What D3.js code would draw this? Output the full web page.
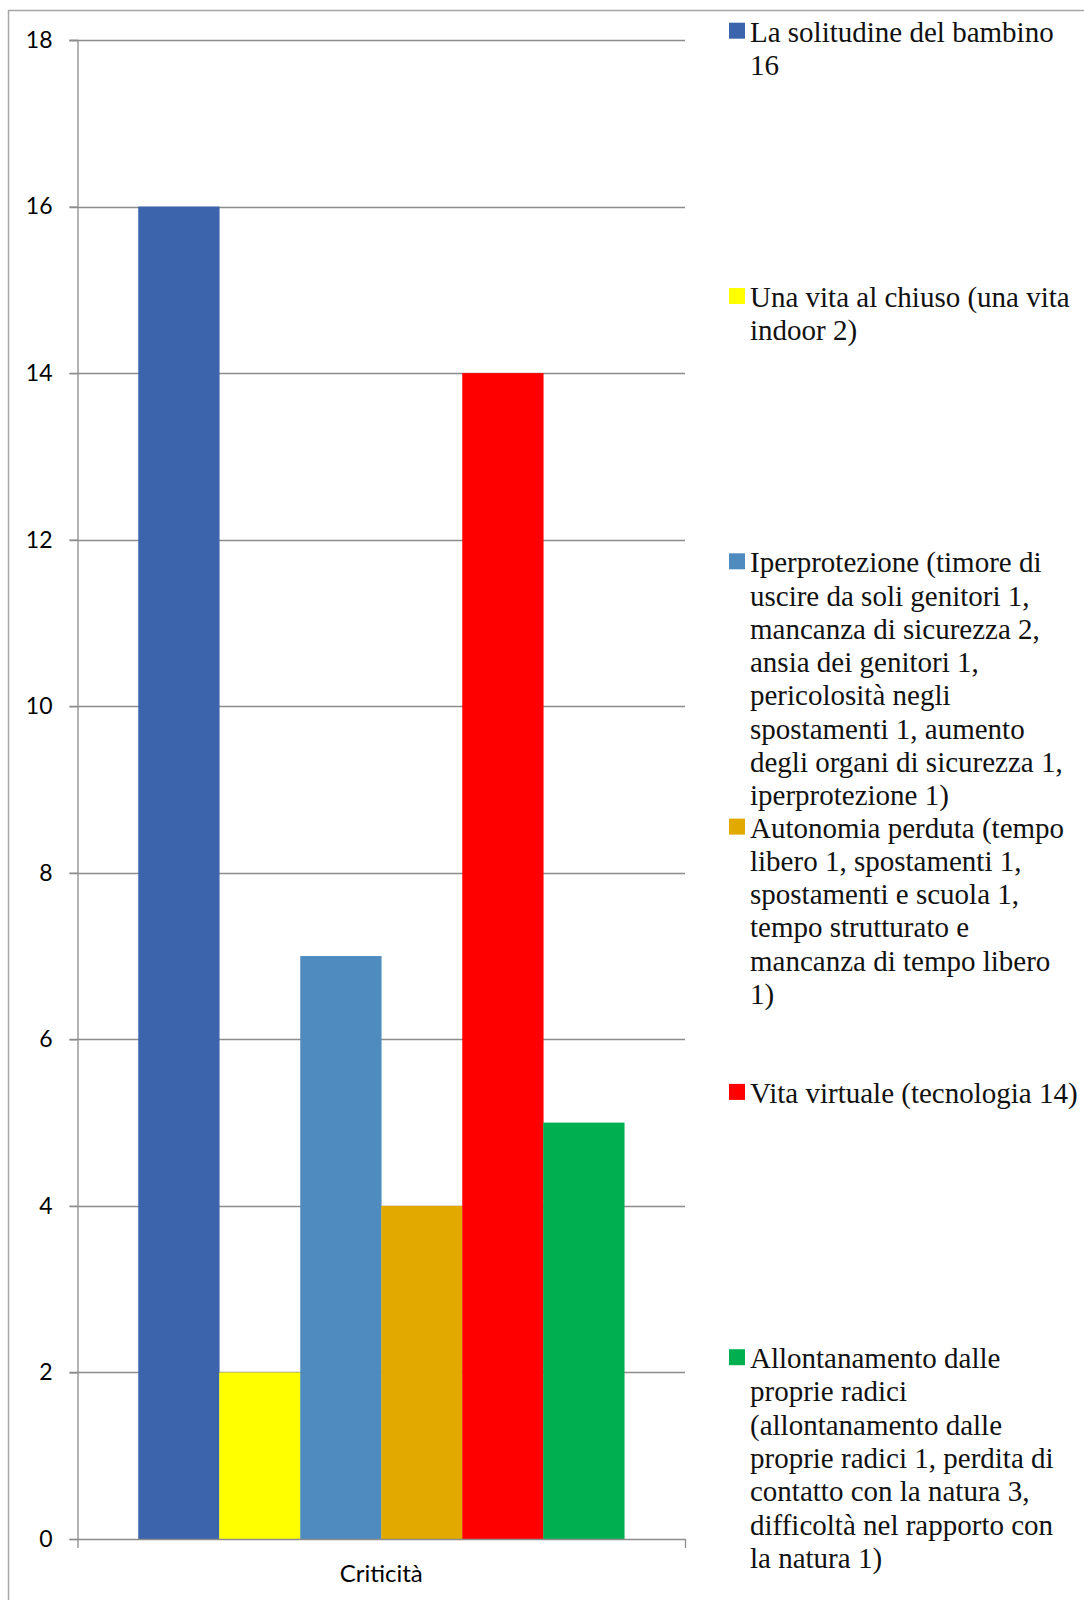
<!DOCTYPE html>
<html>
<head>
<meta charset="utf-8">
<script src="https://cdn.jsdelivr.net/npm/d3@7"></script>
<style>
  html, body { margin: 0; padding: 0; background: #fff; }
  svg { display: block; }
</style>
</head>
<body>
<svg id="chart" width="1084" height="1600"></svg>
<script>
// Data
const category = "Criticità";
const seriesNames = [
  "La solitudine del bambino 16",
  "Una vita al chiuso (una vita indoor 2)",
  "Iperprotezione (timore di uscire da soli genitori 1, mancanza di sicurezza 2, ansia dei genitori 1, pericolosità negli spostamenti 1, aumento degli organi di sicurezza 1, iperprotezione 1)",
  "Autonomia perduta (tempo libero 1, spostamenti 1, spostamenti e scuola 1, tempo strutturato e mancanza di tempo libero 1)",
  "Vita virtuale (tecnologia 14)",
  "Allontanamento dalle proprie radici (allontanamento dalle proprie radici 1, perdita di contatto con la natura 3, difficoltà nel rapporto con la natura 1)"
];
const seriesValues = [16, 2, 7, 4, 14, 5];
const seriesColors = ["#3C64AD", "#FFFF00", "#4F8BBF", "#E2AA00", "#FF0000", "#00B050"];
const yTicks = [0, 2, 4, 6, 8, 10, 12, 14, 16, 18];
// Legend text broken into lines
const legendLines = [
  ["La solitudine del bambino", "16"],
  ["Una vita al chiuso (una vita", "indoor 2)"],
  ["Iperprotezione (timore di", "uscire da soli genitori 1,", "mancanza di sicurezza 2,", "ansia dei genitori 1,", "pericolosità negli", "spostamenti 1, aumento", "degli organi di sicurezza 1,", "iperprotezione 1)"],
  ["Autonomia perduta (tempo", "libero 1, spostamenti 1,", "spostamenti e scuola 1,", "tempo strutturato e", "mancanza di tempo libero", "1)"],
  ["Vita virtuale (tecnologia 14)"],
  ["Allontanamento dalle", "proprie radici", "(allontanamento dalle", "proprie radici 1, perdita di", "contatto con la natura 3,", "difficoltà nel rapporto con", "la natura 1)"]
];

const svg = d3.select("#chart");

// Chart frame
svg.append("line").attr("x1", 8).attr("x2", 1084).attr("y1", 10.5).attr("y2", 10.5)
  .attr("stroke", "#a6a6a6").attr("stroke-width", 1.5);
svg.append("line").attr("x1", 8.5).attr("x2", 8.5).attr("y1", 10).attr("y2", 1600)
  .attr("stroke", "#a6a6a6").attr("stroke-width", 1.5);

// Plot area
const plotLeft = 77.5, plotRight = 685, plotTop = 40, plotBottom = 1539;

const y = d3.scaleLinear().domain([0, 18]).range([plotBottom, plotTop]);
const x0 = d3.scaleBand().domain([category]).range([plotLeft, plotRight])
  .paddingInner(0).paddingOuter(0.125);
const x1 = d3.scaleBand().domain(d3.range(seriesValues.length))
  .range([0, x0.bandwidth()]).padding(0);

// Gridlines
svg.append("g").selectAll("line").data(yTicks.filter(d => d > 0)).join("line")
  .attr("x1", plotLeft - 8).attr("x2", plotRight)
  .attr("y1", d => Math.round(y(d)) + 0.5).attr("y2", d => Math.round(y(d)) + 0.5)
  .attr("stroke", "#8c8c8c").attr("stroke-width", 1.3);

// Bars
svg.append("g").selectAll("rect").data(seriesValues).join("rect")
  .attr("x", (d, i) => x0(category) + x1(i))
  .attr("width", x1.bandwidth() + 0.3)
  .attr("y", d => y(d))
  .attr("height", d => y(0) - y(d))
  .attr("fill", (d, i) => seriesColors[i]);

// Y axis
const yAxis = d3.axisLeft(y).tickValues(yTicks).tickSize(8).tickPadding(17);
const gy = svg.append("g").attr("transform", `translate(${plotLeft},0)`).call(yAxis);
gy.select(".domain").attr("stroke", "#8c8c8c").attr("stroke-width", 1.3);
gy.selectAll(".tick line").attr("stroke", "#8c8c8c").attr("stroke-width", 1.3);
gy.selectAll(".tick text")
  .attr("font-family", "Lato, 'Open Sans', sans-serif")
  .attr("font-size", 23).attr("fill", "#000");

// X axis
const xAxisScale = d3.scaleLinear().domain([0, 1]).range([plotLeft, plotRight]);
const xAxis = d3.axisBottom(xAxisScale).tickValues([0, 1]).tickSize(9).tickSizeOuter(0).tickFormat("");
const gx = svg.append("g").attr("transform", `translate(0,${plotBottom})`).call(xAxis);
gx.select(".domain").attr("stroke", "#8c8c8c").attr("stroke-width", 1.3);
gx.selectAll(".tick line").attr("stroke", "#8c8c8c").attr("stroke-width", 1.3);

svg.append("text")
  .attr("x", x0(category) + x0.bandwidth() / 2).attr("y", 1582)
  .attr("text-anchor", "middle")
  .attr("font-family", "Lato, 'Open Sans', sans-serif")
  .attr("font-size", 24).attr("fill", "#000")
  .text(category);

// Legend
const legendX = 729, legendTextX = 750, legendBase = 41.7, legendStep = 265.3, lineH = 33.3;
const leg = svg.append("g").selectAll("g").data(seriesNames).join("g")
  .attr("transform", (d, i) => `translate(0,${legendBase + i * legendStep})`);
leg.append("rect")
  .attr("x", legendX).attr("y", -19).attr("width", 16).attr("height", 16)
  .attr("fill", (d, i) => seriesColors[i]);
leg.append("text")
  .attr("font-family", "'Liberation Serif', 'Times New Roman', serif")
  .attr("font-size", 29).attr("fill", "#111")
  .selectAll("tspan").data((d, i) => legendLines[i]).join("tspan")
  .attr("x", legendTextX).attr("y", (d, j) => j * lineH)
  .text(d => d);
</script>
</body>
</html>
